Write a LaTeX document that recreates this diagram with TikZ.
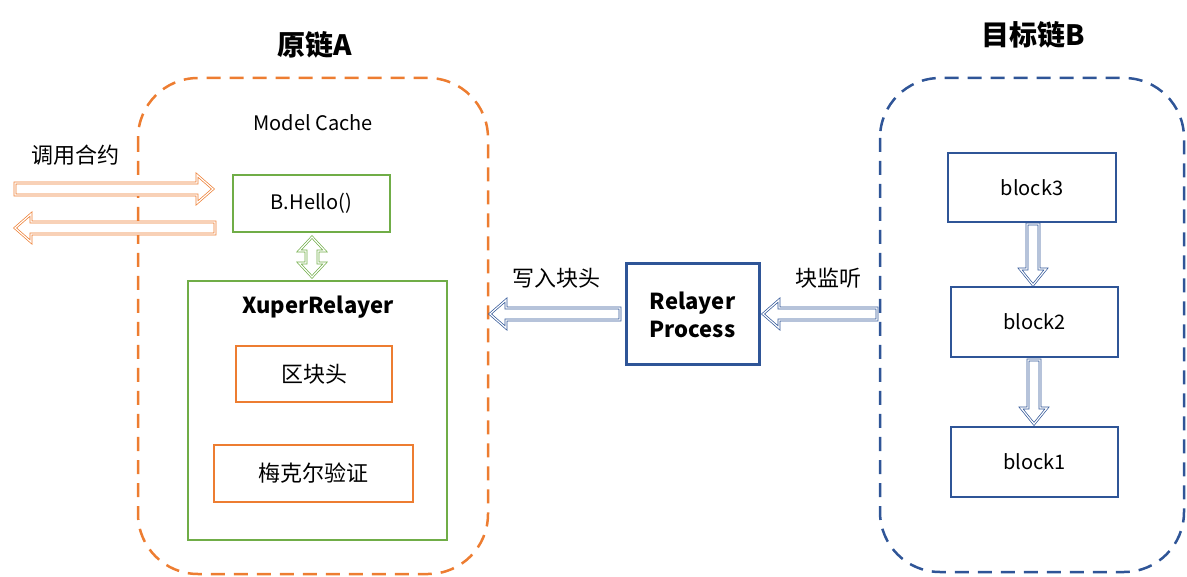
\documentclass[tikz,border=0pt]{standalone}
\usepackage{fontspec}
\setmainfont{Noto Sans CJK SC}
\begin{document}
\definecolor{org}{HTML}{ED7D31}
\definecolor{grn}{HTML}{70AD47}
\definecolor{blu}{HTML}{2F5597}
\newcommand\harr[4]{% color, xs, xe, y
  \pgfmathsetmacro\dd{(#3>#2)?1:-1}
  \pgfmathsetmacro\hb{#3-\dd*16}
  \draw[#1,line width=0.7pt,double=white,double distance=1.2pt,fill=white,line join=miter]
   (#2,#4-6) -- (\hb,#4-6) -- (\hb,#4-14) -- (#3,#4) -- (\hb,#4+14) -- (\hb,#4+6) -- (#2,#4+6) -- cycle;}
\newcommand\varr[4]{% color, x, ys, ye (down)
  \pgfmathsetmacro\hb{#4-16}
  \draw[#1,line width=0.7pt,double=white,double distance=1.2pt,fill=white,line join=miter]
   (#2-6,#3) -- (#2-6,\hb) -- (#2-13,\hb) -- (#2,#4) -- (#2+13,\hb) -- (#2+6,\hb) -- (#2+6,#3) -- cycle;}
\begin{tikzpicture}[x=1pt,y=-1pt,
  box/.style={draw,line width=2.2pt,minimum height=0pt,inner sep=0pt},
  lbl/.style={font=\fontsize{20}{24}\selectfont},
  ttl/.style={font=\fontsize{28}{32}\selectfont\bfseries}]
\useasboundingbox (0,0) rectangle (1187,577);
% containers
\draw[org,line width=2.5pt,dash pattern=on 14pt off 9pt,rounded corners=60pt] (138,78) rectangle (488,574);
\draw[blu,line width=2.5pt,dash pattern=on 14pt off 9pt,rounded corners=60pt] (880,78) rectangle (1184,572);
\node[ttl] (ta) at (315,45) {原链A};
\node[ttl] (tb) at (1033,35) {目标链B};
\node[lbl] (mc) at (313,123) {Model Cache};
% chain A
\node[box,grn,minimum width=157pt,minimum height=57pt,text=black,lbl] (hello) at (311.5,203.5) {B.Hello()};
\node[box,grn,minimum width=259pt,minimum height=259pt] (xr) at (317.5,410.5) {};
\node[font=\fontsize{22}{26}\selectfont\bfseries] (xrl) at (318,307) {XuperRelayer};
\node[box,org,minimum width=156pt,minimum height=56pt,text=black,font=\fontsize{22}{26}\selectfont] (qk) at (314,374) {区块头};
\node[box,org,minimum width=199pt,minimum height=57pt,text=black,font=\fontsize{22}{26}\selectfont] (mk) at (313.5,473.5) {梅克尔验证};
% double arrow green
\draw[grn,line width=0.7pt,double=white,double distance=1.2pt,fill=white]
 (312,237) -- (325,251) -- (318,251) -- (318,263) -- (325,263) -- (312,277) -- (299,263) -- (306,263) -- (306,251) -- (299,251) -- cycle;
% call arrows
\harr{org}{15}{213}{189}
\harr{org}{215}{15}{228}
\node[font=\fontsize{22}{26}\selectfont] (call) at (75,155) {调用合约};
% relayer
\node[box,blu,line width=3pt,minimum width=133pt,minimum height=101pt,align=center,font=\fontsize{22}{28}\selectfont\bfseries,text=black] (rp) at (692.5,314.5) {Relayer\\Process};
\harr{blu}{620}{490}{314}
\harr{blu}{877}{763}{314}
\node[font=\fontsize{22}{26}\selectfont] (w) at (556,278) {写入块头};
\node[font=\fontsize{22}{26}\selectfont] (l) at (828,278) {块监听};
% chain B
\node[box,blu,minimum width=168pt,minimum height=69pt,text=black,lbl] (b3) at (1032,187.5) {block3};
\node[box,blu,minimum width=167pt,minimum height=70pt,text=black,lbl] (b2) at (1034.5,322) {block2};
\node[box,blu,minimum width=167pt,minimum height=70pt,text=black,lbl] (b1) at (1034.5,462) {block1};
\varr{blu}{1033}{224}{285}
\varr{blu}{1034}{360}{424}
\end{tikzpicture}
\end{document}
